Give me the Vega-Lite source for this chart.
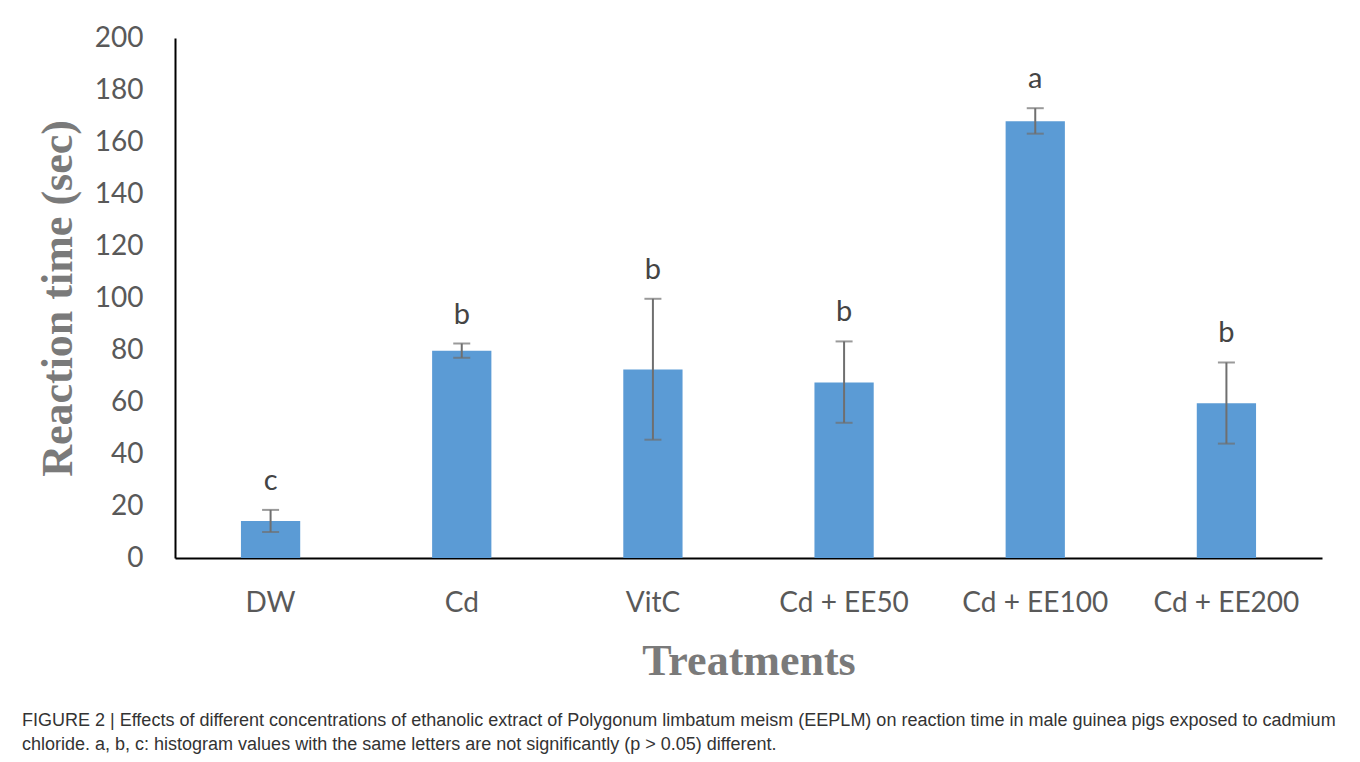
{
  "$schema": "https://vega.github.io/schema/vega-lite/v6.json",
  "width": 1147,
  "height": 520,
  "autosize": {"type": "none"},
  "padding": {"left": 175, "top": 38, "right": 38, "bottom": 204},
  "background": "white",
  "data": {
    "values": [
      {"treatment": "DW", "mean": 14.2, "lo": 10.0, "hi": 18.5, "letter": "c"},
      {"treatment": "Cd", "mean": 79.7, "lo": 77.0, "hi": 82.5, "letter": "b"},
      {"treatment": "VitC", "mean": 72.5, "lo": 45.5, "hi": 99.7, "letter": "b"},
      {"treatment": "Cd + EE50", "mean": 67.5, "lo": 52.0, "hi": 83.3, "letter": "b"},
      {"treatment": "Cd + EE100", "mean": 168.0, "lo": 163.2, "hi": 173.0, "letter": "a"},
      {"treatment": "Cd + EE200", "mean": 59.5, "lo": 44.0, "hi": 75.2, "letter": "b"}
    ]
  },
  "title": {
    "text": [
      "FIGURE 2 | Effects of different concentrations of ethanolic extract of Polygonum limbatum meism (EEPLM) on reaction time in male guinea pigs exposed to cadmium",
      "chloride. a, b, c: histogram values with the same letters are not significantly (p > 0.05) different."
    ],
    "orient": "bottom",
    "anchor": "start",
    "frame": "group",
    "dx": -153,
    "offset": 29,
    "font": "Liberation Sans",
    "fontSize": 18,
    "fontWeight": "normal",
    "color": "#333333",
    "lineHeight": 24
  },
  "encoding": {
    "x": {
      "field": "treatment",
      "type": "nominal",
      "sort": null,
      "scale": {"paddingInner": 0.69, "paddingOuter": 0.345},
      "axis": {
        "title": "Treatments",
        "titleFont": "Liberation Serif",
        "titleFontSize": 44,
        "titleFontWeight": "bold",
        "titleColor": "#7a7a7a",
        "titlePadding": 22,
        "labelFont": "Lato",
        "labelFontSize": 28,
        "labelColor": "#595959",
        "labelAngle": 0,
        "labelPadding": 31,
        "ticks": false,
        "domainColor": "#000000",
        "domainWidth": 2,
        "grid": false
      }
    }
  },
  "layer": [
    {
      "mark": {"type": "bar", "color": "#5b9bd5"},
      "encoding": {
        "y": {
          "field": "mean",
          "type": "quantitative",
          "scale": {"domain": [0, 200], "nice": false},
          "axis": {
            "title": "Reaction time (sec)",
            "titleFont": "Liberation Serif",
            "titleFontSize": 44,
            "titleFontWeight": "bold",
            "titleColor": "#7a7a7a",
            "titlePadding": 14,
            "values": [0, 20, 40, 60, 80, 100, 120, 140, 160, 180, 200],
            "labelFont": "Lato",
            "labelFontSize": 28,
            "labelColor": "#595959",
            "labelPadding": 32,
            "ticks": false,
            "domainColor": "#000000",
            "domainWidth": 2,
            "grid": false
          }
        }
      }
    },
    {
      "mark": {"type": "rule", "color": "#6f6f6f", "strokeWidth": 2},
      "encoding": {
        "y": {"field": "lo", "type": "quantitative"},
        "y2": {"field": "hi"}
      }
    },
    {
      "mark": {"type": "tick", "color": "#6f6f6f", "thickness": 2, "size": 17, "orient": "horizontal"},
      "encoding": {
        "y": {"field": "lo", "type": "quantitative"}
      }
    },
    {
      "mark": {"type": "tick", "color": "#6f6f6f", "thickness": 2, "size": 17, "orient": "horizontal"},
      "encoding": {
        "y": {"field": "hi", "type": "quantitative"}
      }
    },
    {
      "mark": {"type": "text", "font": "Lato", "fontSize": 29, "color": "#444444", "baseline": "alphabetic", "dy": -20},
      "encoding": {
        "y": {"field": "hi", "type": "quantitative"},
        "text": {"field": "letter"}
      }
    }
  ],
  "config": {
    "view": {"stroke": null}
  }
}
